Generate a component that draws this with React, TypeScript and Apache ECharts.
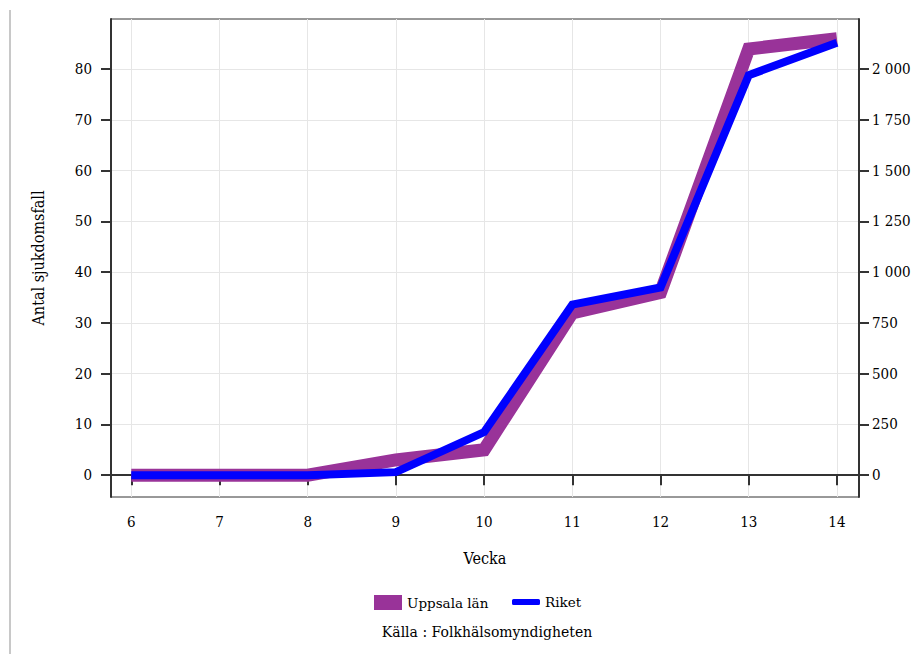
import React, { useEffect, useRef } from "react";
import * as echarts from "echarts";

const weeks = [6, 7, 8, 9, 10, 11, 12, 13, 14];
const uppsala = [0, 0, 0, 3, 5, 32, 36, 84, 86];
const riket = [0, 0, 0, 15, 212, 840, 925, 1970, 2130];
const leftTicks = [0, 10, 20, 30, 40, 50, 60, 70, 80];
const rightTicks = [0, 250, 500, 750, 1000, 1250, 1500, 1750, 2000];
const xTicks = [6, 7, 8, 9, 10, 11, 12, 13, 14];

const FONT = "DejaVu Serif Condensed";
const FONT2 = "DejaVu Serif";
const PURPLE = "#993399";
const BLUE = "#0000ff";

export default function App() {
  const ref = useRef<HTMLDivElement>(null);
  useEffect(() => {
    if (!ref.current) return;
    const chart = echarts.init(ref.current, undefined, { renderer: "svg" });
    const txt = { fontFamily: FONT, fontSize: 15, color: "#000" };
    const nameTxt = { fontFamily: FONT, fontSize: 16, color: "#000" };
    const legTxt = { fontFamily: FONT2, fontSize: 13.5, color: "#000" };
    chart.setOption({
      animation: false,
      backgroundColor: "#fff",
      textStyle: { fontFamily: FONT, fontSize: 15, color: "#000" },
      grid: {
        left: 111,
        right: 65,
        top: 19,
        bottom: 157,
        show: true,
        borderColor: "#333",
        borderWidth: 1,
        containLabel: false,
      },
      legend: [
        {
          data: [{ name: "Uppsala län", icon: "rect" }],
          left: 369,
          top: 590,
          itemWidth: 28,
          itemHeight: 15,
          itemGap: 4,
          textStyle: legTxt,
          selectedMode: false,
        },
        {
          data: [{ name: "Riket", icon: "roundRect" }],
          left: 507,
          top: 590,
          itemWidth: 28,
          itemHeight: 6,
          textStyle: legTxt,
          selectedMode: false,
        },
      ],
      xAxis: {
        type: "value",
        min: 5.77,
        max: 14.25,
        name: "Vecka",
        nameLocation: "middle",
        nameGap: 53,
        nameTextStyle: nameTxt,
        axisLine: { show: true, lineStyle: { color: "#333", width: 2 } },
        axisTick: { show: true, length: 10, customValues: xTicks, lineStyle: { color: "#333", width: 2 } },
        axisLabel: { ...txt, margin: 17, customValues: xTicks },
        splitLine: { show: true, lineStyle: { color: "#e6e6e6", width: 1 } },
      },
      yAxis: [
        {
          type: "value",
          position: "left",
          min: -4.3,
          max: 89.9,
          name: "Antal sjukdomsfall",
          nameLocation: "middle",
          nameGap: 65,
          nameRotate: 90,
          nameTextStyle: nameTxt,
          axisLine: { show: true, lineStyle: { color: "#333", width: 2 } },
          axisTick: { show: true, length: 10, customValues: leftTicks, lineStyle: { color: "#333", width: 2 } },
          axisLabel: { ...txt, margin: 19, customValues: leftTicks },
          splitLine: { show: true, lineStyle: { color: "#e6e6e6", width: 1 } },
        },
        {
          type: "value",
          position: "right",
          min: -107.5,
          max: 2247,
          axisLine: { show: true, lineStyle: { color: "#333", width: 2 } },
          axisTick: { show: true, length: 10, customValues: rightTicks, lineStyle: { color: "#333", width: 2 } },
          axisLabel: {
            ...txt,
            margin: 13,
            customValues: rightTicks,
            formatter: (v: number) => String(v).replace(/\B(?=(\d{3})+(?!\d))/g, " "),
          },
          splitLine: { show: false },
        },
      ],
      series: [
        {
          name: "Uppsala län",
          type: "line",
          yAxisIndex: 0,
          data: weeks.map((w, i) => [w, uppsala[i]]),
          symbol: "none",
          itemStyle: { color: PURPLE },
          lineStyle: { color: PURPLE, width: 13, cap: "butt", join: "miter" },
          z: 2,
        },
        {
          name: "Riket",
          type: "line",
          yAxisIndex: 1,
          data: weeks.map((w, i) => [w, riket[i]]),
          symbol: "none",
          itemStyle: { color: BLUE },
          lineStyle: { color: BLUE, width: 8, cap: "butt", join: "miter" },
          z: 3,
        },
      ],
      graphic: [
        {
          type: "line",
          shape: { x1: 10, y1: 10, x2: 10, y2: 654 },
          style: { stroke: "#c8c8c8", lineWidth: 2 },
          silent: true,
        },
        {
          type: "text",
          x: 487,
          y: 632,
          style: {
            text: "Källa : Folkhälsomyndigheten",
            fontFamily: FONT2,
            fontSize: 14,
            fill: "#000",
            textAlign: "center",
            textVerticalAlign: "middle",
          },
          silent: true,
        },
      ],
    });
    return () => chart.dispose();
  }, []);
  return (
    <div
      ref={ref}
      style={{ position: "absolute", left: 0, top: 0, width: 924, height: 654 }}
    />
  );
}
